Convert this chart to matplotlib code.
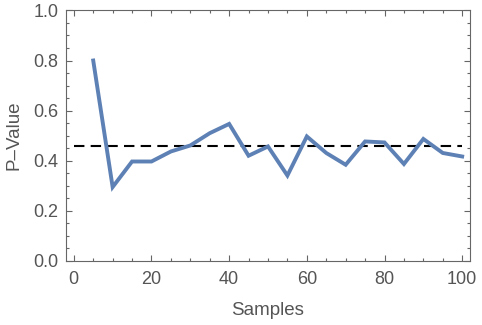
import numpy as np
import matplotlib
matplotlib.use("Agg")
import matplotlib.pyplot as plt
from matplotlib.ticker import MultipleLocator

plt.rcParams['font.family'] = ['Liberation Sans', 'DejaVu Sans']

samples = [5, 10, 15, 20, 25, 30, 35, 40, 45, 50, 55, 60, 65, 70, 75, 80, 85, 90, 95, 100]
p_values = [0.80, 0.295, 0.397, 0.397, 0.437, 0.461, 0.51, 0.547, 0.42, 0.457,
            0.341, 0.497, 0.431, 0.384, 0.477, 0.473, 0.387, 0.487, 0.431, 0.417]
ref_x = [0, 100]
ref_level = 0.46

grey = '#666666'
text_grey = '#555555'

fig = plt.figure(figsize=(4.82, 3.25), dpi=100)
ax = fig.add_axes([0.137, 0.197, 0.838, 0.771])

ax.plot(samples, p_values, color='#5E81B5', lw=2.8, solid_joinstyle='miter', zorder=3)
ax.plot(ref_x, [ref_level, ref_level], color='black', lw=1.5, dashes=(5, 3), zorder=2)

ax.set_xlim(-2, 102)
ax.set_ylim(0, 1.0)
ax.xaxis.set_major_locator(MultipleLocator(20))
ax.xaxis.set_minor_locator(MultipleLocator(5))
ax.yaxis.set_major_locator(MultipleLocator(0.2))
ax.yaxis.set_minor_locator(MultipleLocator(0.05))
ax.yaxis.set_major_formatter(matplotlib.ticker.FormatStrFormatter('%.1f'))

ax.tick_params(which='both', direction='in', top=True, right=True, color=grey, width=0.8)
ax.tick_params(which='major', length=4, labelsize=13, labelcolor=text_grey)
ax.tick_params(axis='x', which='major', pad=7)
ax.tick_params(axis='y', which='major', pad=5.5)
ax.tick_params(which='minor', length=2.5)
for s in ax.spines.values():
    s.set_color(grey)
    s.set_linewidth(0.8)

ax.set_xlabel('Samples', fontsize=13.5, color=text_grey, labelpad=10)
ax.set_ylabel('P\u2013Value', fontsize=13.5, color=text_grey, labelpad=8)

fig.savefig('out.png', dpi=100)
